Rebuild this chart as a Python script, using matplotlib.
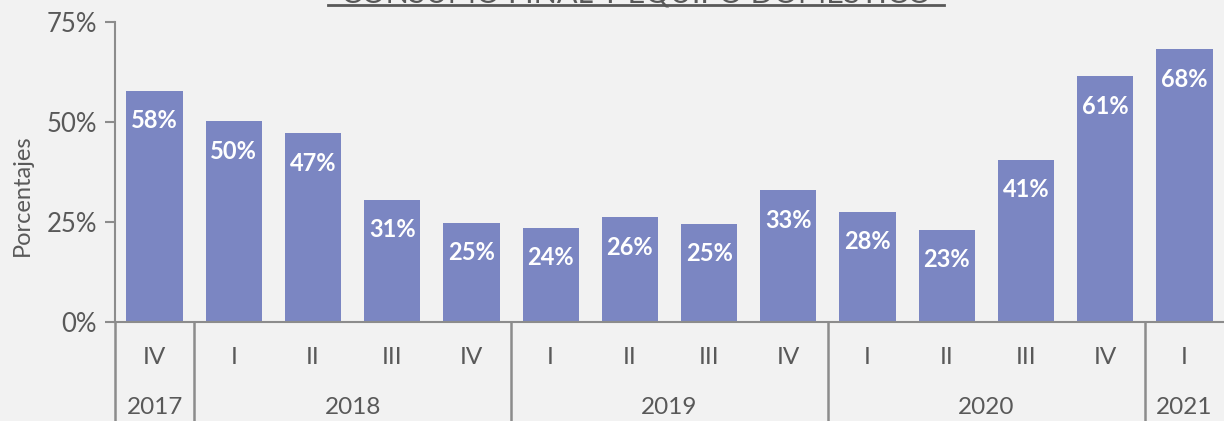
import numpy as np
import matplotlib.pyplot as plt
import matplotlib.transforms as mtransforms
from matplotlib.lines import Line2D

quarters = ["IV", "I", "II", "III", "IV", "I", "II", "III", "IV", "I", "II", "III", "IV", "I"]
values = [57.8, 50.2, 47.2, 30.6, 24.8, 23.6, 26.2, 24.6, 33.0, 27.6, 23.1, 40.6, 61.4, 68.2]
labels = ["58%", "50%", "47%", "31%", "25%", "24%", "26%", "25%", "33%", "28%", "23%", "41%", "61%", "68%"]
years = ["2017", "2018", "2019", "2020", "2021"]
year_sizes = [1, 4, 4, 4, 1]

bg = "#f2f2f2"
bar_color = "#7b86c2"
text_color = "#595959"
line_color = "#8c8c8c"

plt.rcParams["font.family"] = ["Lato", "DejaVu Sans"]

fig = plt.figure(figsize=(12.24, 4.21), dpi=100, facecolor=bg)
ax = fig.add_axes([115 / 1224, 1 - 322 / 421, 1 - 115 / 1224, 300 / 421])
ax.set_facecolor(bg)

x = np.arange(len(values))
ax.bar(x, values, width=0.71, color=bar_color, zorder=2)
for xi, v, lab in zip(x, values, labels):
    ax.annotate(lab, (xi, v), xytext=(0, -21.6), textcoords="offset points",
                ha="center", va="center", color="white", fontsize=17, fontweight="bold")

ax.set_xlim(-0.5, len(values) - 0.5)
ax.set_ylim(0, 75)
ax.set_yticks([0, 25, 50, 75])
ax.set_yticklabels(["0%", "25%", "50%", "75%"])
ax.tick_params(axis="y", colors=line_color, labelcolor=text_color, labelsize=18.5,
               length=7, width=1.5, pad=6)
ax.set_xticks([])
ax.set_ylabel("Porcentajes", color=text_color, fontsize=17)
ax.yaxis.set_label_coords(-0.074, 0.423)

for s in ["top", "right"]:
    ax.spines[s].set_visible(False)
for s in ["left", "bottom"]:
    ax.spines[s].set_color(line_color)
    ax.spines[s].set_linewidth(1.5)

trans = mtransforms.blended_transform_factory(ax.transData, ax.transAxes)
y_bottom = -100 / 300
for xi, q in zip(x, quarters):
    ax.text(xi, -36 / 300, q, transform=trans, ha="center", va="center",
            color=text_color, fontsize=17.5)

start = -0.5
seps = [start]
for yr, n in zip(years, year_sizes):
    mid = start + n / 2
    ax.text(mid, -86 / 300, yr, transform=trans, ha="center", va="center",
            color=text_color, fontsize=17.5)
    start += n
    seps.append(start)

for sx in seps[:-1]:
    ax.plot([sx, sx], [0, y_bottom], transform=trans, color=line_color,
            lw=1.8, clip_on=False)

# title, mostly cropped off at the top edge
fig.text(636 / 1224, 1 - 2.5 / 421, "CONSUMO FINAL Y EQUIPO DOMÉSTICO",
         ha="center", va="baseline", color=text_color, fontsize=22)
fig.add_artist(Line2D([328 / 1224, 944 / 1224], [1 - 4.5 / 421, 1 - 4.5 / 421],
                      color=text_color, lw=2, transform=fig.transFigure))

fig.savefig("out.png", dpi=100, facecolor=bg)
